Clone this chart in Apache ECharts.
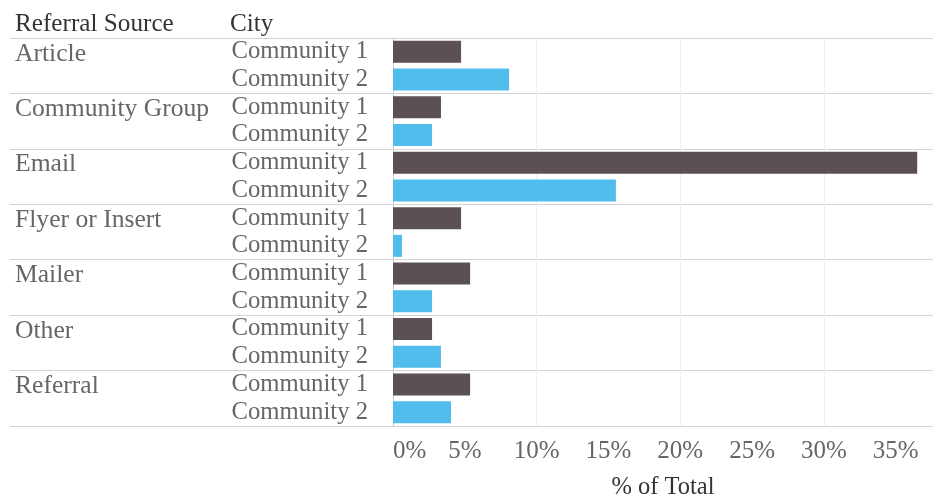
<!DOCTYPE html>
<html>
<head>
<meta charset="utf-8">
<script src="https://cdn.jsdelivr.net/npm/echarts@6/dist/echarts.min.js"></script>
<style>
  html, body { margin: 0; padding: 0; background: #ffffff; }
  #chart { width: 934px; height: 500px; }
</style>
</head>
<body>
<div id="chart"></div>
<script>
// Share of total responses by referral source and city (%)
const sources = ['Article', 'Community Group', 'Email', 'Flyer or Insert', 'Mailer', 'Other', 'Referral'];
const cities = ['Community 1', 'Community 2'];
const community1 = [4.74, 3.34, 36.5, 4.74, 5.37, 2.72, 5.37];
const community2 = [8.08, 2.72, 15.52, 0.63, 2.72, 3.34, 4.04];
const axisMax = 37.6;
const labelStep = 5;
const gridStep = 10;

const FONT = 'Liberation Serif';
const ROW_H = 388 / 14;
const rows = sources.flatMap(s => cities.map(c => s + '|' + c));
const values = [community1, community2];
const colors = ['#5b5052', '#51bdec'];

const seriesList = cities.map((city, ci) => ({
  name: city,
  type: 'bar',
  xAxisIndex: 0,
  yAxisIndex: 0,
  barWidth: 22,
  barGap: '-100%',
  itemStyle: { color: colors[ci] },
  silent: true,
  data: rows.map((r, ri) => (ri % 2 === ci ? values[ci][Math.floor(ri / 2)] : '-'))
}));

const chart = echarts.init(document.getElementById('chart'), null, { renderer: 'canvas' });
chart.setOption({
  animation: false,
  backgroundColor: '#ffffff',
  textStyle: { fontFamily: FONT, fontSize: 24 },
  title: [
    { text: 'Referral Source', left: 15, top: 12, padding: 0,
      textStyle: { fontFamily: FONT, fontSize: 25.2, fontWeight: 'normal', color: '#333333' } },
    { text: 'City', left: 230, top: 12, padding: 0,
      textStyle: { fontFamily: FONT, fontSize: 25.2, fontWeight: 'normal', color: '#333333' } }
  ],
  grid: { left: 393, right: 1, top: 38, height: 388, containLabel: false, outerBoundsMode: 'none' },
  xAxis: [
    {
      type: 'value', min: 0, max: axisMax, interval: labelStep, position: 'bottom',
      axisLine: { show: false }, axisTick: { show: false }, splitLine: { show: false },
      axisLabel: {
        formatter: '{value}%', showMaxLabel: false, alignMinLabel: 'left',
        fontFamily: FONT, fontSize: 25, color: '#666666', margin: 13
      },
      name: '% of Total', nameLocation: 'middle', nameGap: 49,
      nameTextStyle: { fontFamily: FONT, fontSize: 24.5, color: '#333333' }
    },
    {
      type: 'value', min: 0, max: axisMax, interval: gridStep, position: 'bottom',
      axisLine: { show: false },
      axisTick: { show: false },
      axisLabel: { show: false },
      splitLine: { show: true, showMinLine: false, showMaxLine: false, lineStyle: { color: '#efefef', width: 1 } }
    }
  ],
  yAxis: [
    {
      type: 'category', data: rows, inverse: true, position: 'left',
      axisLine: { show: true, lineStyle: { color: '#cccccc', width: 1 } },
      axisTick: { show: false },
      splitLine: { show: false },
      axisLabel: {
        formatter: v => v.split('|')[1], align: 'right', margin: 25, interval: 0,
        fontFamily: FONT, fontSize: 24.7, color: '#666666'
      }
    },
    {
      type: 'category', data: sources, inverse: true, position: 'left',
      axisLine: { show: false },
      axisTick: { show: true, length: 383, interval: 0, lineStyle: { color: '#d4d4d4', width: 1 } },
      splitLine: { show: true, interval: 0, lineStyle: { color: '#d4d4d4', width: 1 } },
      axisLabel: {
        align: 'left', margin: 378, interval: 0, verticalAlign: 'middle',
        padding: [4, 0, 0, 0],
        // second empty line pushes the source name up onto its first city row
        formatter: v => '{s|' + v + '}\n{s| }',
        rich: { s: { fontFamily: FONT, fontSize: 25.6, color: '#666666', lineHeight: ROW_H } }
      }
    }
  ],
  series: seriesList
});
</script>
</body>
</html>
